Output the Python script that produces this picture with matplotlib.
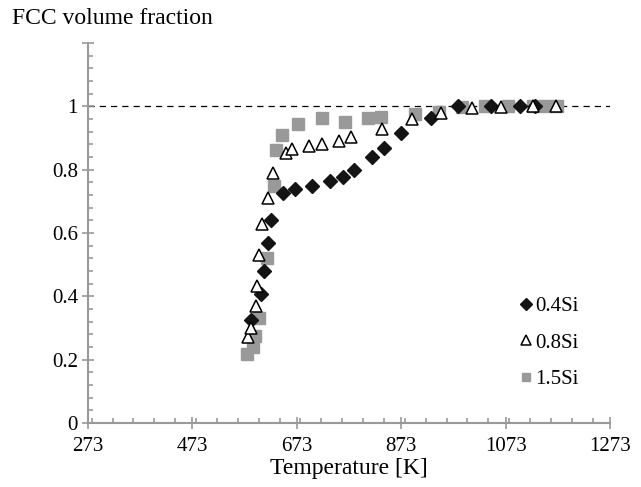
import numpy as np
import matplotlib
matplotlib.use("Agg")
import matplotlib.pyplot as plt
from matplotlib.ticker import MultipleLocator

plt.rcParams['font.family'] = ['Liberation Serif', 'DejaVu Serif']

# 0.4Si (black diamonds)
t_04 = [586, 604, 610, 617, 624, 646, 670, 703, 737, 761, 783, 817, 840, 873, 930,
        982, 1046, 1101, 1130]
f_04 = [0.324, 0.406, 0.48, 0.567, 0.641, 0.725, 0.74, 0.748, 0.764, 0.778, 0.80,
        0.84, 0.867, 0.915, 0.964, 1.0, 1.0, 1.0, 1.0]

# 0.8Si (open triangles)
t_08 = [580, 585, 594, 596, 601, 606, 617, 628, 652, 663, 697, 721, 754, 777, 836,
        893, 949, 1008, 1065, 1126, 1170]
f_08 = [0.272, 0.299, 0.37, 0.434, 0.53, 0.628, 0.711, 0.788, 0.853, 0.865, 0.876,
        0.881, 0.891, 0.902, 0.927, 0.959, 0.978, 0.994, 0.997, 1.0, 1.0]

# 1.5Si (gray squares)
t_15 = [577, 590, 593, 601, 615, 629, 634, 644, 676, 721, 765, 810, 834, 900, 946,
        990, 1034, 1078, 1126, 1148, 1171]
f_15 = [0.218, 0.241, 0.275, 0.333, 0.52, 0.75, 0.862, 0.909, 0.944, 0.962, 0.951,
        0.964, 0.965, 0.975, 0.983, 0.997, 1.0, 1.0, 1.0, 1.0, 1.0]

x_ticks = [273, 473, 673, 873, 1073, 1273]
y_ticks = [0, 0.2, 0.4, 0.6, 0.8, 1]

fig = plt.figure(figsize=(6.41, 4.87), dpi=100)
ax = fig.add_axes([0.1373, 0.1314, 0.8143, 0.7803])

ax.axhline(1.0, color='black', lw=0.9, ls=(0, (5, 4)), zorder=1)

ax.plot(t_04, f_04, 'D', ms=7.5, color='#141414', mec='#141414', label='0.4Si', zorder=3)
ax.plot(t_08, f_08, '^', ms=9, mfc='white', mec='black', mew=1.1, label='0.8Si', zorder=3)
ax.plot(t_15, f_15, 's', ms=8.5, color='#999999', mec='#999999', label='1.5Si', zorder=2)

ax.set_xlim(273, 1273)
ax.set_ylim(0, 1.2)
ax.set_xticks(x_ticks)
ax.set_xticklabels([str(v) for v in x_ticks])
ax.set_yticks(y_ticks + [1.2])
ax.set_yticklabels(['0', '0.2', '0.4', '0.6', '0.8', '1', ''])
ax.xaxis.set_minor_locator(MultipleLocator(40))
ax.yaxis.set_minor_locator(MultipleLocator(0.04))

for s in ['top', 'right']:
    ax.spines[s].set_visible(False)
for s in ['left', 'bottom']:
    ax.spines[s].set_color('#999999')
    ax.spines[s].set_linewidth(1.5)

ax.tick_params(which='major', direction='inout', length=8.5, color='#999999',
               width=1.2, labelsize=15)
ax.tick_params(which='minor', direction='in', length=3.6, color='#999999', width=1.2)
ax.tick_params(axis='x', which='major', pad=6)
ax.tick_params(axis='y', which='major', pad=3)

ax.set_xlabel('Temperature [K]', fontsize=17, labelpad=1)
fig.text(0.018, 0.963, 'FCC volume fraction', fontsize=17, va='center', ha='left')

leg = ax.legend(loc='lower right', bbox_to_anchor=(0.955, 0.068), frameon=False,
                fontsize=15, handletextpad=0.0, handlelength=0.8, markerscale=0.75,
                labelspacing=0.8, borderaxespad=0)

fig.savefig('out.png', dpi=100)
